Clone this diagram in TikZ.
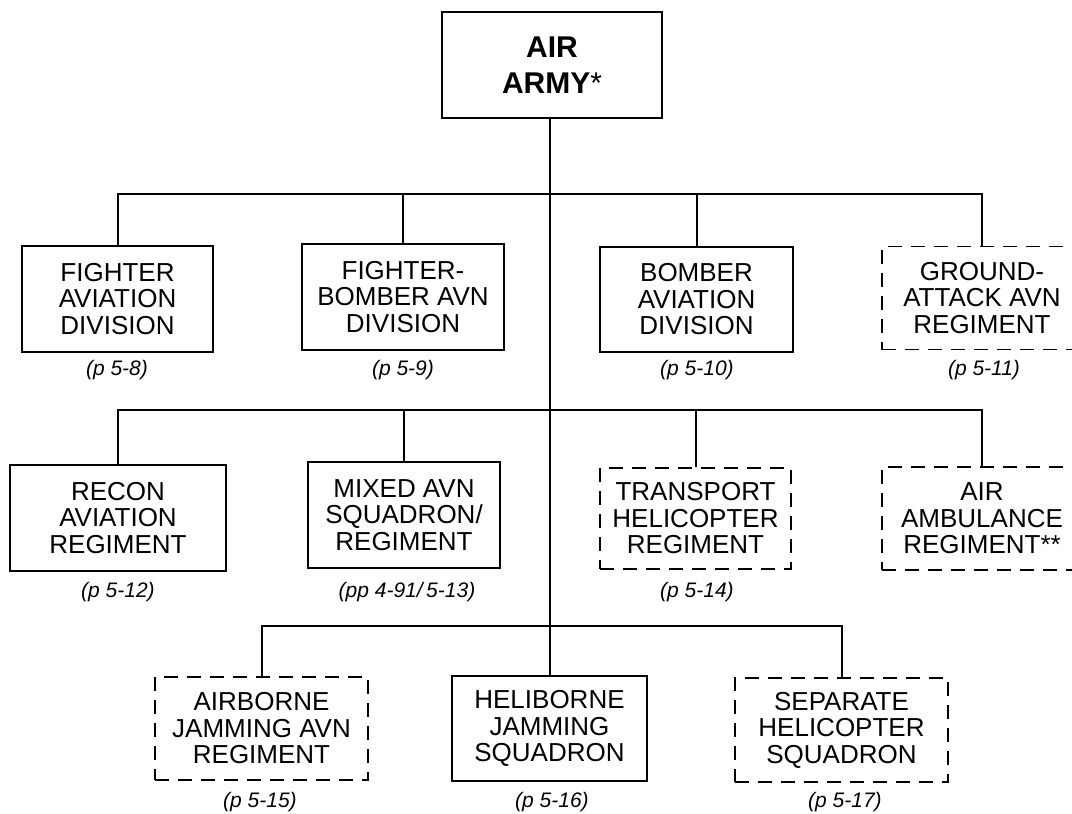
\documentclass[tikz,border=0pt]{standalone}
\usepackage{fontspec}
\setmainfont{Liberation Sans}
\begin{document}
\begin{tikzpicture}[x=1pt,y=-1pt,
  unit/.style={draw, line width=2.4pt, rectangle, inner sep=0pt, align=center,
    font=\fontsize{26}{26.5}\selectfont},
  dunit/.style={unit, line width=1.3pt, dash pattern=on 14pt off 9pt},
  pg/.style={font=\fontsize{21}{24}\selectfont\itshape, inner sep=0pt},
  link/.style={line width=2pt}]
\useasboundingbox (0,0) rectangle (1072,814);
\clip (0,0) rectangle (1072,814);
% top
\node[unit, minimum width=220pt, minimum height=106pt,
  font=\fontsize{30}{36}\selectfont\bfseries] (air) at (552,65) {AIR\\ARMY\textmd{*}};
% row 1
\node[unit, minimum width=191pt, minimum height=106pt] (fighter) at (117.5,299) {FIGHTER\\AVIATION\\DIVISION};
\node[unit, minimum width=202pt, minimum height=106pt] (fb) at (403,297) {FIGHTER-\\BOMBER AVN\\DIVISION};
\node[unit, minimum width=193pt, minimum height=105pt] (bomber) at (696.5,299.5) {BOMBER\\AVIATION\\DIVISION};
\node[dunit, minimum width=200pt, minimum height=103pt] (ground) at (982,298) {GROUND-\\ATTACK AVN\\REGIMENT};
\node[pg] (l1) at (117,370) {(p 5-8)};
\node[pg] (l2) at (403,370) {(p 5-9)};
\node[pg] (l3) at (697,370) {(p 5-10)};
\node[pg] (l4) at (984,370) {(p 5-11)};
% row 2
\node[unit, minimum width=216pt, minimum height=106pt] (recon) at (118,518) {RECON\\AVIATION\\REGIMENT};
\node[unit, minimum width=192pt, minimum height=106pt] (mixed) at (404,515) {MIXED AVN\\SQUADRON/\\REGIMENT};
\node[dunit, minimum width=191pt, minimum height=101pt] (transport) at (695.5,518.5) {TRANSPORT\\HELICOPTER\\REGIMENT};
\node[dunit, minimum width=200pt, minimum height=103pt] (amb) at (982,518.5) {AIR\\AMBULANCE\\REGIMENT**};
\node[pg] (l5) at (118,592) {(p 5-12)};
\node[pg] (l6) at (407,592) {(pp 4-91/\,5-13)};
\node[pg] (l7) at (697,592) {(p 5-14)};
% row 3
\node[dunit, minimum width=213pt, minimum height=103pt] (airborne) at (261.5,728.5) {AIRBORNE\\JAMMING AVN\\REGIMENT};
\node[unit, minimum width=195pt, minimum height=105pt] (heli) at (549.5,728.5) {HELIBORNE\\JAMMING\\SQUADRON};
\node[dunit, minimum width=213pt, minimum height=104pt] (sep) at (841.5,730) {SEPARATE\\HELICOPTER\\SQUADRON};
\node[pg] (l8) at (260,802) {(p 5-15)};
\node[pg] (l9) at (552,802) {(p 5-16)};
\node[pg] (l10) at (845,802) {(p 5-17)};
% connectors
\coordinate (bus1) at (0,194);
\coordinate (bus2) at (0,410);
\coordinate (bus3) at (0,626);
\draw[link] (air.south -| heli.north) -- (heli.north);
\draw[link] (fighter.north) -- (fighter.north |- bus1) -- (ground.north |- bus1) -- (ground.north);
\draw[link] (fb.north) -- (fb.north |- bus1);
\draw[link] (bomber.north) -- (bomber.north |- bus1);
\draw[link] (recon.north) -- (recon.north |- bus2) -- (amb.north |- bus2) -- (amb.north);
\draw[link] (mixed.north) -- (mixed.north |- bus2);
\draw[link] (transport.north) -- (transport.north |- bus2);
\draw[link] (airborne.north) -- (airborne.north |- bus3) -- (sep.north |- bus3) -- (sep.north);
\end{tikzpicture}
\end{document}
